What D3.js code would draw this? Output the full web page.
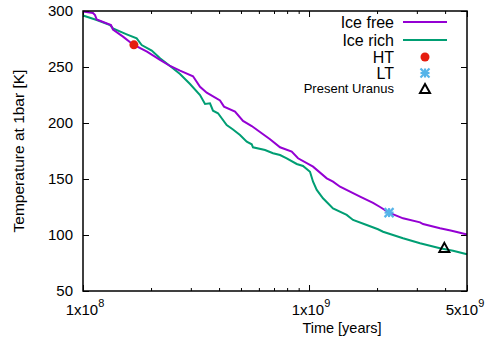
<!DOCTYPE html>
<html>
<head>
<meta charset="utf-8">
<script src="https://cdn.jsdelivr.net/npm/d3@7"></script>
<style>
  body { margin: 0; background: #fff; }
  text { font-family: "Liberation Sans", Arial, sans-serif; fill: #000; }
</style>
</head>
<body>
<script>
// Ice free model, time [years] and T at 1 bar [K]
var iceFreeTime = [1.0e8, 1.107e8, 1.13e8, 1.15e8, 1.33e8, 1.357e8, 1.503e8, 1.664e8, 1.919e8, 2.192e8,
  2.427e8, 2.687e8, 3.067e8, 3.294e8, 3.527e8, 4.038e8, 4.206e8, 4.705e8, 5.105e8, 5.578e8,
  6.176e8, 6.722e8, 7.443e8, 8.385e8, 8.941e8, 1.042e9, 1.198e9, 1.277e9, 1.372e9, 1.682e9,
  1.92e9, 2.062e9, 2.26e9, 2.606e9, 3.099e9, 3.195e9, 3.798e9, 4.279e9, 5.0e9];
var iceFreeTemp = [299.6, 298.2, 296.4, 292.4, 287.5, 283.5, 277.1, 270.1, 263.7, 256.3,
  250.9, 246.7, 241.7, 232.4, 227.1, 220.1, 214.6, 210.1, 201.8, 197.3,
  190.8, 185.5, 178.3, 174.4, 168.5, 161.0, 150.6, 147.6, 143.1, 134.2,
  128.6, 125.0, 120.0, 114.9, 111.3, 109.8, 106.0, 103.8, 100.4];

// Ice rich model
var iceRichTime = [1.0e8, 1.15e8, 1.317e8, 1.357e8, 1.561e8, 1.728e8, 1.818e8, 2.014e8, 2.192e8, 2.427e8,
  2.687e8, 2.975e8, 3.294e8, 3.466e8, 3.647e8, 3.76e8, 3.957e8, 4.323e8, 4.61e8, 4.951e8,
  5.302e8, 5.578e8, 5.652e8, 6.389e8, 6.93e8, 7.443e8, 7.967e8, 8.823e8, 9.408e8, 1.01e9,
  1.042e9, 1.082e9, 1.153e9, 1.277e9, 1.468e9, 1.566e9, 1.8e9, 2.02e9, 2.126e9, 2.606e9,
  3.099e9, 3.798e9, 4.337e9, 5.0e9];
var iceRichTemp = [296.0, 292.0, 287.5, 284.4, 279.2, 275.6, 269.6, 264.7, 257.8, 250.9,
  243.8, 234.8, 225.0, 217.0, 217.6, 211.0, 208.7, 198.2, 194.2, 189.3,
  183.3, 181.0, 178.3, 175.9, 173.0, 171.4, 168.5, 163.4, 161.6, 156.5,
  147.6, 140.2, 132.8, 123.8, 117.9, 113.4, 108.9, 105.1, 102.9, 97.1,
  92.6, 88.1, 86.0, 82.8];

// single points
var htPoint = [1.68e8, 269.8];
var ltPoint = [2.26e9, 120.0];
var uranusPoint = [3.97e9, 88.5];

var yTicks = [50, 100, 150, 200, 250, 300];
var xMajor = [1e8, 1e9, 5e9];
var xMinor = [2e8, 3e8, 4e8, 5e8, 6e8, 7e8, 8e8, 9e8, 2e9, 3e9, 4e9];
var xLabels = [["1x10", "8"], ["1x10", "9"], ["5x10", "9"]];

var legendNames = ["Ice free", "Ice rich", "HT", "LT", "Present Uranus"];

var W = 491, H = 343;
var pLeft = 83, pRight = 467, pTop = 11, pBottom = 291;

var svg = d3.select("body").append("svg")
  .attr("width", W)
  .attr("height", H);

var x = d3.scaleLog().domain([1e8, 5e9]).range([pLeft, pRight]);
var y = d3.scaleLinear().domain([50, 300]).range([pBottom, pTop]);

// axes with inward ticks (mirrored on top/right)
function tickAxis(axis, pos, vals, size) {
  svg.append("g")
    .attr("transform", pos)
    .call(axis.tickValues(vals).tickSize(size).tickFormat(""))
    .call(function (g) {
      g.select(".domain").remove();
      g.selectAll("line").attr("stroke", "#000").attr("stroke-width", 1);
    });
}
tickAxis(d3.axisBottom(x), "translate(0," + pBottom + ")", xMajor, -6);
tickAxis(d3.axisBottom(x), "translate(0," + pBottom + ")", xMinor, -3);
tickAxis(d3.axisTop(x), "translate(0," + pTop + ")", xMajor, -6);
tickAxis(d3.axisTop(x), "translate(0," + pTop + ")", xMinor, -3);
tickAxis(d3.axisLeft(y), "translate(" + pLeft + ",0)", yTicks, -6);
tickAxis(d3.axisRight(y), "translate(" + pRight + ",0)", yTicks, -6);

// y tick labels
svg.selectAll(".ylab")
  .data(yTicks)
  .enter()
  .append("text")
  .attr("x", pLeft - 10)
  .attr("y", function (d) { return y(d) + 5; })
  .attr("text-anchor", "end")
  .attr("font-size", "15px")
  .text(function (d) { return d; });

// x tick labels with superscripts
var xl = svg.selectAll(".xlab")
  .data(xMajor)
  .enter()
  .append("text")
  .attr("x", function (d, i) { return x(d) + (i == 2 ? -2 : 2); })
  .attr("y", 315)
  .attr("text-anchor", "middle")
  .attr("font-size", "15px");
xl.append("tspan").text(function (d, i) { return xLabels[i][0]; });
xl.append("tspan").attr("dy", -8).attr("font-size", "11px").text(function (d, i) { return xLabels[i][1]; });

svg.append("text")
  .attr("x", 342)
  .attr("y", 333)
  .attr("text-anchor", "middle")
  .attr("font-size", "14.5px")
  .text("Time [years]");

svg.append("text")
  .attr("transform", "translate(24,151) rotate(-90)")
  .attr("text-anchor", "middle")
  .attr("font-size", "15.5px")
  .text("Temperature at 1bar [K]");

// curves
var line = d3.line()
  .x(function (d) { return x(d[0]); })
  .y(function (d) { return y(d[1]); });

svg.append("path")
  .datum(d3.zip(iceRichTime, iceRichTemp))
  .attr("d", line)
  .attr("fill", "none")
  .attr("stroke", "#009e73")
  .attr("stroke-width", 2);

svg.append("path")
  .datum(d3.zip(iceFreeTime, iceFreeTemp))
  .attr("d", line)
  .attr("fill", "none")
  .attr("stroke", "#9400d3")
  .attr("stroke-width", 2);

// markers
function drawCircle(cx, cy) {
  svg.append("circle").attr("cx", cx).attr("cy", cy).attr("r", 4.5).attr("fill", "#e51e10");
}
function drawStar(cx, cy) {
  var s = 4.5;
  var g = svg.append("g").attr("stroke", "#56b4e9").attr("stroke-width", 2.2);
  g.append("line").attr("x1", cx - s).attr("y1", cy).attr("x2", cx + s).attr("y2", cy);
  g.append("line").attr("x1", cx).attr("y1", cy - s).attr("x2", cx).attr("y2", cy + s);
  g.append("line").attr("x1", cx - s).attr("y1", cy - s).attr("x2", cx + s).attr("y2", cy + s);
  g.append("line").attr("x1", cx - s).attr("y1", cy + s).attr("x2", cx + s).attr("y2", cy - s);
}
function drawTriangle(cx, cy) {
  svg.append("path")
    .attr("d", "M" + cx + "," + (cy - 5) + "L" + (cx + 5) + "," + (cy + 4) + "L" + (cx - 5) + "," + (cy + 4) + "Z")
    .attr("fill", "none")
    .attr("stroke", "#000")
    .attr("stroke-width", 2);
}

drawCircle(x(htPoint[0]), y(htPoint[1]));
drawStar(x(ltPoint[0]), y(ltPoint[1]));
drawTriangle(x(uranusPoint[0]), y(uranusPoint[1]));

// legend
var legY = [22, 40, 57, 73, 89];
var legSize = ["16px", "16px", "16px", "16px", "13px"];
legendNames.forEach(function (name, i) {
  svg.append("text")
    .attr("x", 394)
    .attr("y", legY[i] + (i == 4 ? 4 : 6))
    .attr("text-anchor", "end")
    .attr("font-size", legSize[i])
    .text(name);
});
svg.append("line").attr("x1", 403).attr("x2", 447).attr("y1", legY[0]).attr("y2", legY[0])
  .attr("stroke", "#9400d3").attr("stroke-width", 2);
svg.append("line").attr("x1", 403).attr("x2", 447).attr("y1", legY[1]).attr("y2", legY[1])
  .attr("stroke", "#009e73").attr("stroke-width", 2);
drawCircle(425, legY[2]);
drawStar(425, legY[3]);
drawTriangle(425, legY[4]);

// frame
svg.append("rect")
  .attr("x", pLeft).attr("y", pTop)
  .attr("width", pRight - pLeft).attr("height", pBottom - pTop)
  .attr("fill", "none")
  .attr("stroke", "#000")
  .attr("stroke-width", 1.5);
</script>
</body>
</html>
